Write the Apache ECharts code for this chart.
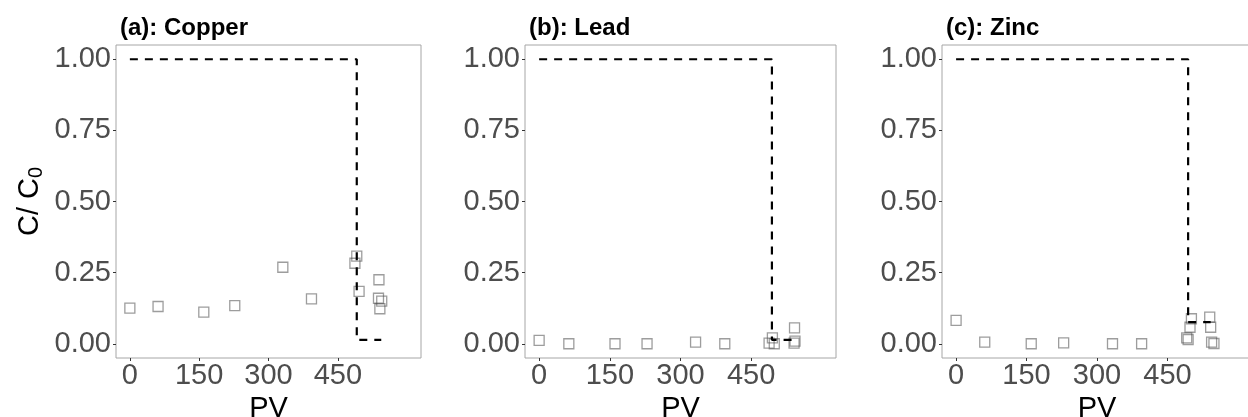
<!DOCTYPE html>
<html>
<head>
<meta charset="utf-8">
<script src="https://cdn.jsdelivr.net/npm/echarts@6/dist/echarts.min.js"></script>
<style>
    html, body {margin: 0; padding: 0; background: #fff;}
    #main {width: 1248px; height: 417px;}
</style>
</head>
<body>
<div id="main"></div>
<script>
// 面板标题
var titles = ['(a): Copper', '(b): Lead', '(c): Zinc'];
var xTicks = [0, 150, 300, 450];
var yTicks = [0, 0.25, 0.5, 0.75, 1];

// 实测点 (PV, C/C0)
var pvCu = [0, 61, 160, 227, 331, 393, 487, 491, 496, 539, 538, 541, 545];
var cCu = [0.125, 0.131, 0.111, 0.134, 0.269, 0.158, 0.283, 0.308, 0.184, 0.225, 0.160, 0.123, 0.150];
var pvPb = [0, 63, 161, 229, 332, 394, 488, 495, 499, 542, 543, 541];
var cPb = [0.012, 0, 0, 0, 0.006, 0, 0.002, 0.021, 0, 0.056, 0.009, 0.002];
var pvZn = [0, 61, 160, 229, 333, 395, 491, 494, 498, 501, 540, 542, 544, 549];
var cZn = [0.082, 0.006, 0, 0.003, 0, 0, 0.021, 0.015, 0.058, 0.088, 0.094, 0.058, 0.006, 0.001];

// 虚线 (阶跃)
var stepCuX = [0, 491, 491, 544];
var stepCuY = [1, 1, 0.014, 0.014];
var stepPbX = [0, 494, 494, 540];
var stepPbY = [1, 1, 0.014, 0.014];
var stepZnX = [0, 494, 494, 542];
var stepZnY = [1, 1, 0.076, 0.076];

function zip(xs, ys) {
    var out = [];
    for (var i = 0; i < xs.length; i++) out.push([xs[i], ys[i]]);
    return out;
}

var points = [zip(pvCu, cCu), zip(pvPb, cPb), zip(pvZn, cZn)];
var steps = [zip(stepCuX, stepCuY), zip(stepPbX, stepPbY), zip(stepZnX, stepZnY)];

// 每个面板的位置
var boxes = [
    {left: 116, width: 305},
    {left: 525, width: 311},
    {left: 942, width: 310}
];

var grid = [], xAxis = [], yAxis = [], series = [], title = [];
for (var i = 0; i < 3; i++) {
    grid.push({
        left: boxes[i].left, top: 45, width: boxes[i].width, height: 313,
        outerBoundsMode: 'none', containLabel: false,
        show: true, borderColor: '#a6a6a6', borderWidth: 1, backgroundColor: 'transparent'
    });
    title.push({
        text: titles[i], left: boxes[i].left - 1, top: 11,
        textStyle: {fontFamily: 'Liberation Sans', fontSize: 24, fontWeight: 'bold', color: '#000'}
    });
    xAxis.push({
        type: 'value', gridIndex: i, min: -30, max: 630,
        name: 'PV', nameLocation: 'middle', nameGap: 28,
        nameTextStyle: {fontFamily: 'Liberation Sans', fontSize: 29, color: '#000'},
        axisLine: {show: false, onZero: false},
        axisTick: {show: true, length: 3, lineStyle: {color: '#333'}, customValues: xTicks},
        axisLabel: {
            fontFamily: 'Liberation Sans', fontSize: 29, color: '#4d4d4d', margin: 3,
            customValues: xTicks
        },
        splitLine: {show: false}
    });
    yAxis.push({
        type: 'value', gridIndex: i, min: -0.05, max: 1.05,
        name: i == 0 ? 'C/ C{sub|0}' : '', nameLocation: 'middle', nameGap: 70,
        nameTextStyle: {
            fontFamily: 'Liberation Sans', fontSize: 29, color: '#000',
            rich: {sub: {fontFamily: 'Liberation Sans', fontSize: 20, color: '#000', verticalAlign: 'bottom', padding: [12, 0, 0, 0]}}
        },
        axisLine: {show: false, onZero: false},
        axisTick: {show: true, length: 3, lineStyle: {color: '#333'}, customValues: yTicks},
        axisLabel: {
            fontFamily: 'Liberation Sans', fontSize: 29, color: '#4d4d4d', margin: 5,
            customValues: yTicks,
            formatter: function (v) { return v.toFixed(2); }
        },
        splitLine: {show: false}
    });
    series.push({
        type: 'scatter', xAxisIndex: i, yAxisIndex: i,
        symbol: 'rect', symbolSize: 10,
        itemStyle: {color: 'rgba(0,0,0,0)', borderColor: 'rgba(80,80,80,0.7)', borderWidth: 1.3},
        data: points[i]
    });
    series.push({
        type: 'line', xAxisIndex: i, yAxisIndex: i,
        symbol: 'none', silent: true,
        lineStyle: {color: '#000', width: 2.2, type: [8, 7]},
        data: steps[i]
    });
}

var myChart = echarts.init(document.getElementById('main'));
myChart.setOption({
    animation: false,
    title: title,
    grid: grid,
    xAxis: xAxis,
    yAxis: yAxis,
    series: series
});
</script>
</body>
</html>
